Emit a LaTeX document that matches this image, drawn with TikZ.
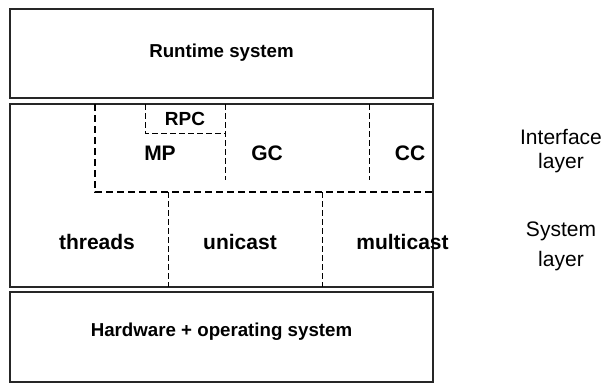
\documentclass[tikz,border=0pt]{standalone}
\usepackage{fontspec}
\setmainfont{Liberation Sans}
\usepackage{tikz}

\begin{document}
\begin{tikzpicture}[x=1pt,y=-1pt]
\useasboundingbox (0,0) rectangle (605,383);
% \draw [help lines,step=10pt] (0,0) grid (605,383);
%% three layers
\draw [color=black!85,line width=1.1pt] (10,9) rectangle (433,98);
\draw [color=black!85,line width=1.1pt] (10,104) rectangle (433,287);
\draw [color=black!85,line width=1.1pt] (10,292) rectangle (433,382);
%% interface layer split
\draw [color=black,line width=1.3pt,dash pattern=on 7pt off 4pt] (95,104) -- (95,192) -- (433,192);
\draw [color=black,line width=0.6pt,dash pattern=on 6pt off 3pt] (145,104) -- (145,133) -- (225,133);
\draw [color=black,line width=0.6pt,dash pattern=on 6pt off 3pt] (225,104) -- (225,180);
\draw [color=black,line width=0.6pt,dash pattern=on 6pt off 3pt] (369,104) -- (369,180);
%% system layer split
\draw [color=black,line width=0.6pt,dash pattern=on 6pt off 3pt] (168,192) -- (168,287);
\draw [color=black,line width=0.6pt,dash pattern=on 6pt off 3pt] (322,192) -- (322,287);
%% labels
\node [font=\fontsize{18.7}{22}\selectfont\bfseries] (runtime) at (221.5,52.5) {Runtime system};
\node [font=\fontsize{18.7}{22}\selectfont\bfseries] (hardware) at (221.5,332) {Hardware + operating system};
\node [font=\fontsize{19}{22}\selectfont\bfseries] (rpc) at (185,118.5) {RPC};
\node [font=\fontsize{21}{24}\selectfont\bfseries] (mp) at (160,153.5) {MP};
\node [font=\fontsize{21}{24}\selectfont\bfseries] (gc) at (267,153.5) {GC};
\node [font=\fontsize{21}{24}\selectfont\bfseries] (cc) at (410,153.5) {CC};
\node [font=\fontsize{21}{24}\selectfont\bfseries] (threads) at (97,241.5) {threads};
\node [font=\fontsize{21}{24}\selectfont\bfseries] (unicast) at (240,241.5) {unicast};
\node [font=\fontsize{21}{24}\selectfont\bfseries] (multicast) at (402.5,241.5) {multicast};
\node [font=\fontsize{21}{23.5}\selectfont,align=center] (iface) at (561,151) {Interface\\layer};
\node [font=\fontsize{21}{30}\selectfont,align=center] (syslayer) at (561,246) {System\\layer};
\end{tikzpicture}
\end{document}
